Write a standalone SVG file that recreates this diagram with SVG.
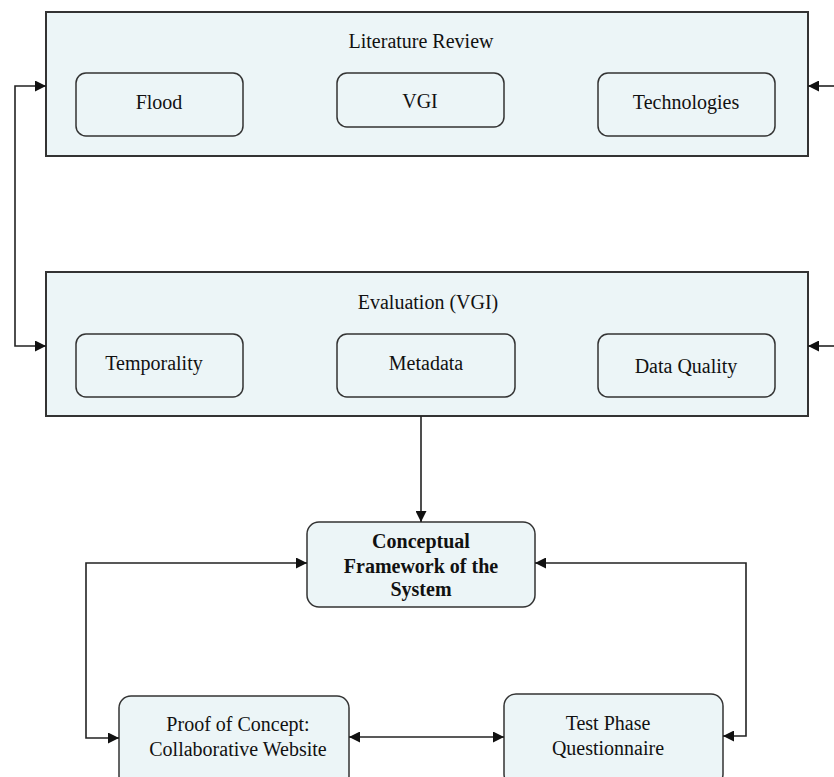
<svg xmlns="http://www.w3.org/2000/svg" width="834" height="777" viewBox="0 0 834 777">
<defs>
<marker id="ah" viewBox="0 0 10 10" refX="10" refY="5" markerWidth="11" markerHeight="11" markerUnits="userSpaceOnUse" orient="auto-start-reverse">
<path d="M0,0 L10,5 L0,10 z" fill="#111"/>
</marker>
<style>
.outer{fill:#ecf5f7;stroke:#333;stroke-width:2}
.inner{fill:#ecf5f7;stroke:#333;stroke-width:1.5}
.t{font-family:"Liberation Serif","Times New Roman",serif;font-size:20px;fill:#111;text-anchor:middle}
.b{font-weight:bold}
.c{fill:none;stroke:#222;stroke-width:1.6}
</style>
</defs>
<g id="literature">
<rect class="outer" x="46" y="12" width="762" height="144"/>
<text class="t" x="421" y="48">Literature Review</text>
</g>
<g id="flood"><rect class="inner" x="76" y="73" width="167" height="63" rx="10"/><text class="t" x="159" y="109">Flood</text></g>
<g id="vgi"><rect class="inner" x="337" y="73" width="167" height="54" rx="10"/><text class="t" x="420" y="108">VGI</text></g>
<g id="technologies"><rect class="inner" x="598" y="73" width="177" height="63" rx="10"/><text class="t" x="686" y="109">Technologies</text></g>
<g id="evaluation">
<rect class="outer" x="46" y="272" width="762" height="144"/>
<text class="t" x="428" y="309">Evaluation (VGI)</text>
</g>
<g id="temporality"><rect class="inner" x="76" y="334" width="167" height="63" rx="10"/><text class="t" x="154" y="370">Temporality</text></g>
<g id="metadata"><rect class="inner" x="337" y="334" width="178" height="63" rx="10"/><text class="t" x="426" y="370">Metadata</text></g>
<g id="dataquality"><rect class="inner" x="598" y="334" width="177" height="63" rx="10"/><text class="t" x="686" y="373">Data Quality</text></g>
<g id="conceptual"><rect class="inner" x="307" y="522" width="228" height="85" rx="12"/>
<text class="t b" x="421" y="548">Conceptual</text><text class="t b" x="421" y="573">Framework of the</text><text class="t b" x="421" y="596">System</text></g>
<g id="proof"><rect class="inner" x="119" y="696" width="230" height="92" rx="12"/>
<text class="t" x="238" y="731">Proof of Concept:</text><text class="t" x="238" y="756">Collaborative  Website</text></g>
<g id="testphase"><rect class="inner" x="504" y="694" width="219" height="92" rx="12"/>
<text class="t" x="608" y="730">Test Phase</text><text class="t" x="608" y="755">Questionnaire</text></g>
<g id="connectors">
<path class="c" d="M46,346 H15 V86 H46" marker-start="url(#ah)" marker-end="url(#ah)"/>
<path class="c" d="M834,86 H808" marker-end="url(#ah)"/>
<path class="c" d="M834,346 H808" marker-end="url(#ah)"/>
<path class="c" d="M421,416 V522" marker-end="url(#ah)"/>
<path class="c" d="M119,738 H86 V563 H307" marker-start="url(#ah)" marker-end="url(#ah)"/>
<path class="c" d="M723,736 H746 V563 H535" marker-start="url(#ah)" marker-end="url(#ah)"/>
<path class="c" d="M349,737 H504" marker-start="url(#ah)" marker-end="url(#ah)"/>
</g>
</svg>
